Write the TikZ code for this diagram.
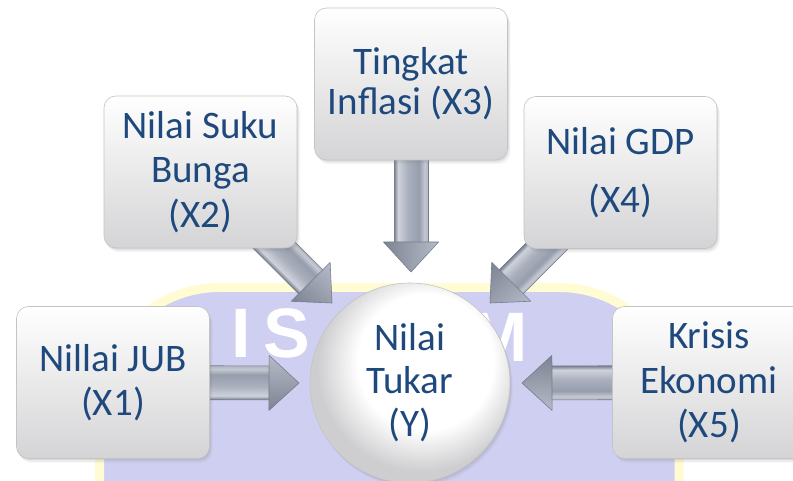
\documentclass[tikz,border=0pt]{standalone}
\usepackage{fontspec}
\newfontfamily\carlito{Carlito}
\newfontfamily\wmfont{Liberation Sans}
\usetikzlibrary{shadows}

\definecolor{textblue}{RGB}{31,73,125}
\definecolor{boxgrey}{RGB}{212,212,214}
\definecolor{boxedge}{RGB}{196,196,198}
\definecolor{circgrey}{RGB}{206,206,208}
\definecolor{wmlav}{RGB}{207,207,241}
\definecolor{wmyellow}{RGB}{255,251,210}
\definecolor{arrowedge}{RGB}{118,125,140}
\definecolor{ashA}{RGB}{120,127,142}
\definecolor{ashB}{RGB}{206,210,219}
\definecolor{ashC}{RGB}{170,176,189}
\definecolor{ashD}{RGB}{150,157,172}
\definecolor{ashE}{RGB}{196,200,210}
\definecolor{ashF}{RGB}{176,181,193}
\definecolor{aheadtop}{RGB}{182,187,200}
\definecolor{aheadbot}{RGB}{124,131,146}

% metallic stripe pattern across the arrow shaft (bottom to top)
\pgfdeclareverticalshading{shaftshading}{100bp}{%
  color(0bp)=(ashA); color(25bp)=(ashA); color(31bp)=(ashB);
  color(45bp)=(ashC); color(62bp)=(ashD); color(70bp)=(ashE);
  color(75bp)=(ashF); color(100bp)=(ashF)}

% bright ball, lit from the upper right
\pgfdeclareradialshading{ballshading}{\pgfpoint{6bp}{8bp}}{%
  color(0bp)=(white); color(17bp)=(white); color(26bp)=(circgrey);
  color(50bp)=(circgrey)}

\pgfdeclarelayer{back}
\pgfdeclarelayer{mid}
\pgfsetlayers{back,mid,main}

% block arrow from the centre of node #1 to the tip coordinate #2
\newcommand\blockarrow[2]{%
  \pgfpointdiff{\pgfpointanchor{#1}{center}}{\pgfpointanchor{#2}{center}}%
  \pgfgetlastxy{\bax}{\bay}%
  \pgfmathsetmacro\bang{atan2(\bay,\bax)}%
  \pgfmathsetmacro\blen{veclen(\bax,\bay)}%
  \begin{scope}[transform canvas={shift={(#2)},rotate=\bang}]
    \shade[shading=shaftshading, draw=arrowedge, line width=0.6pt]
      (-\blen pt,-17pt) rectangle (-28pt,17pt);
    \shade[top color=aheadtop, bottom color=aheadbot, draw=arrowedge,
      line width=0.6pt, line join=round]
      (0pt,0pt) -- (-30pt,27.5pt) -- (-30pt,17pt) -- (-30pt,-17pt)
      -- (-30pt,-27.5pt) -- cycle;
  \end{scope}}

\tikzset{
  softshadow/.style={
    drop shadow={shadow xshift=1pt, shadow yshift=-1.5pt, opacity=.14},
    drop shadow={shadow xshift=2pt, shadow yshift=-3pt, opacity=.10},
    drop shadow={shadow xshift=3pt, shadow yshift=-4.5pt, opacity=.06}},
  varbox/.style={rectangle, rounded corners=12pt,
    minimum width=193pt, minimum height=152pt, inner sep=0pt,
    softshadow,
    top color=white, bottom color=boxgrey, draw=boxedge, line width=0.6pt,
    text=textblue, align=center,
    font=\carlito\fontsize{39}{44.5}\selectfont},
  targetcircle/.style={circle, minimum size=200pt, inner sep=0pt,
    softshadow,
    shading=ballshading, draw=boxedge, line width=0.6pt,
    text=textblue, align=center,
    font=\carlito\fontsize{39}{43}\selectfont},
  wmletter/.style={anchor=base, inner sep=0pt, text=white,
    font=\wmfont\bfseries\fontsize{70}{70}\selectfont}
}

\begin{document}
\begin{tikzpicture}[x=1pt, y=-1pt]
\useasboundingbox (0,0) rectangle (793,481);

% faint watermark behind the diagram
\begin{pgfonlayer}{back}
  \fill[white] (0,0) rectangle (793,481);
  \begin{scope}
    \clip (0,0) rectangle (793,481);
    \draw[fill=wmlav, draw=wmyellow, line width=9pt, rounded corners=120pt]
      (99.5,287.5) rectangle (679,720);
  \end{scope}
  \node[wmletter] (wi) at (241,357) {I};
  \node[wmletter] (ws) at (287,357) {S};
  \node[wmletter] (wm) at (499,361) {M};
\end{pgfonlayer}

% factors
\node[varbox] (x1) at (113,382.5) {Nillai JUB\\(X1)};
\node[varbox] (x2) at (200.5,172) {Nilai Suku\\Bunga\\(X2)};
\node[varbox, font=\carlito\fontsize{39}{40}\selectfont] (x3) at (411,84)
  {Tingkat\\Inflasi (X3)};
\node[varbox] (x4) at (620.5,172.5) {Nilai GDP\\[14pt](X4)};
\node[varbox] (x5) at (709,382.5) {Krisis\\Ekonomi\\(X5)};

% exchange rate
\node[targetcircle] (y) at (410,383) {Nilai\\Tukar\\(Y)};

% arrow tips
\coordinate (t1) at (299,383);
\coordinate (t2) at (332,303);
\coordinate (t3) at (411,272);
\coordinate (t4) at (490,303);
\coordinate (t5) at (522,383);

\begin{pgfonlayer}{mid}
  \blockarrow{x1}{t1}
  \blockarrow{x2}{t2}
  \blockarrow{x3}{t3}
  \blockarrow{x4}{t4}
  \blockarrow{x5}{t5}
\end{pgfonlayer}
\end{tikzpicture}
\end{document}
